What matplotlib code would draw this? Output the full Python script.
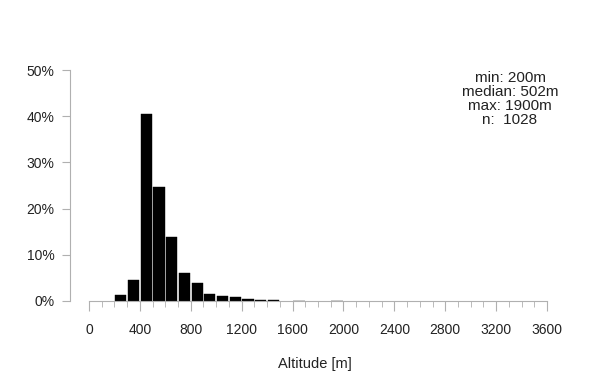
import matplotlib
matplotlib.use("Agg")
import matplotlib.pyplot as plt
from matplotlib.ticker import FixedLocator

plt.rcParams["font.family"] = ["Liberation Sans", "DejaVu Sans"]

# Histogramm Hoehenlage, Klassen zu je 100 m
bin_starts = [200, 300, 400, 500, 600, 700, 800, 900, 1000, 1100, 1200, 1300, 1400, 1600, 1900]
share_pct = [1.3, 4.6, 40.5, 24.7, 13.9, 6.1, 3.8, 1.6, 1.1, 0.9, 0.5, 0.2, 0.2, 0.1, 0.1]
stats_text = "min: 200m\nmedian: 502m\nmax: 1900m\nn:  1028"
bin_width = 100

fig = plt.figure(figsize=(6, 3.9), dpi=100)
ax = fig.add_axes([70 / 600, 89 / 390, 490 / 600, 241 / 390])

centers = [b + bin_width / 2 for b in bin_starts]
ax.bar(centers, share_pct, width=bin_width * 0.88, color="black",
       edgecolor="black", linewidth=0.3)

ax.set_xlim(-149, 3702)
ax.set_ylim(0, 52.2)

grey = "#b0b0b0"
for side in ["top", "right"]:
    ax.spines[side].set_visible(False)
ax.spines["left"].set_bounds(0, 50)
ax.spines["bottom"].set_bounds(0, 3600)
ax.spines["left"].set_color(grey)
ax.spines["bottom"].set_color(grey)

ax.xaxis.set_major_locator(FixedLocator(range(0, 3601, 400)))
ax.xaxis.set_minor_locator(FixedLocator([v for v in range(0, 3601, 100) if v % 400]))
ax.tick_params(axis="x", which="major", length=7, color=grey, labelsize=10, pad=9, labelcolor="#222222")
ax.tick_params(axis="x", which="minor", length=4, color=grey)
ax.tick_params(axis="y", length=6, color=grey, labelsize=10, pad=5, labelcolor="#222222")
ax.set_yticks(range(0, 51, 10))
ax.set_yticklabels([f"{v}%" for v in range(0, 51, 10)])

ax.set_xlabel("Altitude [m]", fontsize=10.5, labelpad=14.5, color="#222222")

ax.text(0.898, 0.955, stats_text, transform=ax.transAxes, ha="center", va="top",
        fontsize=11, linespacing=1.0, color="#222222")

fig.savefig("out.png", dpi=100)
